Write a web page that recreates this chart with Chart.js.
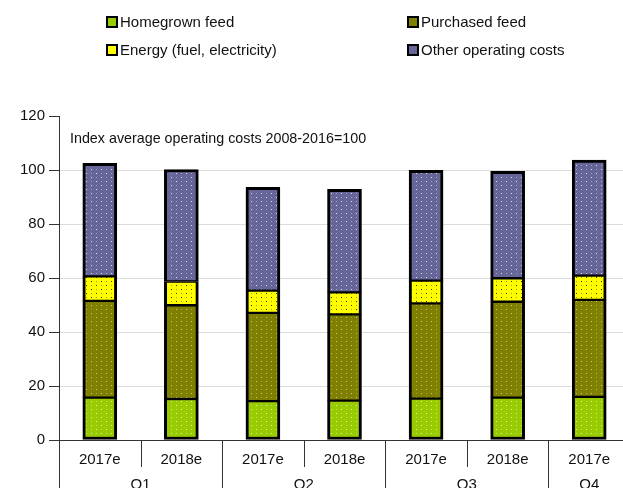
<!DOCTYPE html>
<html>
<head>
<meta charset="utf-8">
<script src="https://cdn.jsdelivr.net/npm/chart.js@4/dist/chart.umd.min.js"></script>
<style>
  html, body { margin: 0; padding: 0; overflow: hidden; background: #fff; }
  canvas { display: block; }
</style>
</head>
<body>
<canvas id="chart" width="630" height="488"></canvas>
<script>
// categories and the quarter each one belongs to
const years = ['2017e', '2018e', '2017e', '2018e', '2017e', '2018e', '2017e'];
const quarters = ['Q1', 'Q1', 'Q2', 'Q2', 'Q3', 'Q3', 'Q4'];

// stacked segments (index, 2008-2016 = 100)
const homegrown = [15.7, 15.2, 14.4, 14.6, 15.3, 15.7, 16.0];
const purchased = [35.8, 34.7, 32.7, 31.9, 35.3, 35.5, 35.9];
const energy = [9.1, 8.8, 8.2, 8.2, 8.4, 8.7, 9.0];
const other = [41.9, 41.5, 38.3, 38.1, 40.9, 39.6, 42.8];

const seriesNames = ['Homegrown feed', 'Purchased feed', 'Energy (fuel, electricity)', 'Other operating costs'];
const seriesColors = ['#99cc00', '#808000', '#ffff00', '#666699'];
const dotColors = ['rgba(255,255,255,0.75)', 'rgba(255,255,255,0.6)', 'rgba(0,0,0,0.8)', 'rgba(255,255,255,0.8)'];
const yMax = 120;
const yStep = 20;
const note = 'Index average operating costs 2008-2016=100';

const FONT = "'Liberation Sans', Arial, sans-serif";

// small dotted fill like the excel pattern
function dotted(color, dot) {
  const c = document.createElement('canvas');
  c.width = 10; c.height = 8;
  const g = c.getContext('2d');
  g.fillStyle = color;
  g.fillRect(0, 0, 10, 8);
  g.fillStyle = dot;
  g.fillRect(1, 1, 1, 1);
  g.fillRect(6, 5, 1, 1);
  g.globalAlpha = 0.45;
  g.fillRect(6, 1, 1, 1);
  g.fillRect(1, 5, 1, 1);
  return g.createPattern(c, 'repeat');
}

const values = [homegrown, purchased, energy, other];
const datasets = values.map((v, i) => ({
  label: seriesNames[i],
  data: v,
  backgroundColor: dotted(seriesColors[i], dotColors[i]),
  borderColor: '#000',
  borderWidth: {
    left: 3, right: 3,
    top: i === values.length - 1 ? 3 : 1.5,
    bottom: i === 0 ? 3 : 1.5
  },
  borderSkipped: false,
  barThickness: 34
}));

// legend, note, second row of x labels and the separators
const extras = {
  id: 'extras',
  afterDraw(chart) {
    const ctx = chart.ctx;
    const area = chart.chartArea;
    const x = chart.scales.x;
    ctx.save();

    // legend in two columns
    const cols = [107, 408];
    const rows = [22, 50];
    ctx.font = '15px ' + FONT;
    ctx.textBaseline = 'middle';
    ctx.textAlign = 'left';
    seriesNames.forEach((name, i) => {
      const lx = cols[i % 2];
      const ly = rows[Math.floor(i / 2)];
      ctx.fillStyle = seriesColors[i];
      ctx.fillRect(lx, ly - 5, 10, 10);
      ctx.lineWidth = 2;
      ctx.strokeStyle = '#000';
      ctx.strokeRect(lx, ly - 5, 10, 10);
      ctx.fillStyle = '#111';
      ctx.fillText(name, lx + 13, ly + 1);
    });

    // note inside the plot
    ctx.font = '14.3px ' + FONT;
    ctx.fillStyle = '#111';
    ctx.fillText(note, area.left + 11, area.top + 23);

    // category separators
    const step = x.width / years.length;
    ctx.strokeStyle = '#333';
    ctx.lineWidth = 1;
    for (let i = 0; i <= years.length; i++) {
      const px = Math.round(area.left + i * step) + 0.5;
      const long = i === 0 || i === years.length || quarters[i] !== quarters[i - 1];
      ctx.beginPath();
      ctx.moveTo(px, area.bottom);
      ctx.lineTo(px, long ? chart.height : area.bottom + 27);
      ctx.stroke();
    }

    // quarter labels
    ctx.font = '15px ' + FONT;
    ctx.textAlign = 'center';
    ctx.textBaseline = 'alphabetic';
    ctx.fillStyle = '#111';
    let start = 0;
    for (let i = 1; i <= quarters.length; i++) {
      if (i === quarters.length || quarters[i] !== quarters[start]) {
        const cx = (x.getPixelForValue(start) + x.getPixelForValue(i - 1)) / 2;
        ctx.fillText(quarters[start], cx, area.bottom + 49);
        start = i;
      }
    }
    ctx.restore();
  }
};

new Chart(document.getElementById('chart'), {
  type: 'bar',
  data: { labels: years, datasets: datasets },
  options: {
    responsive: false,
    animation: false,
    layout: { padding: { top: 116, right: 0, left: 0, bottom: 0 } },
    plugins: {
      legend: { display: false },
      tooltip: { enabled: false }
    },
    scales: {
      x: {
        stacked: true,
        grid: { display: false },
        border: { display: true, color: '#333', width: 1 },
        ticks: {
          color: '#111',
          font: { family: FONT, size: 15 },
          padding: 3,
          maxRotation: 0,
          autoSkip: false
        },
        afterFit(scale) { scale.height = 48; }
      },
      y: {
        stacked: true,
        min: 0,
        max: yMax,
        grid: {
          color: (c) => (c.tick && c.tick.value === yMax ? 'rgba(0,0,0,0)' : '#dcdcdc'),
          tickColor: '#333',
          tickLength: 10,
          lineWidth: 1
        },
        border: { display: true, color: '#333', width: 1 },
        ticks: {
          stepSize: yStep,
          color: '#111',
          font: { family: FONT, size: 15 },
          padding: 4
        },
        afterFit(scale) { scale.width = 59; }
      }
    }
  },
  plugins: [extras]
});
</script>
</body>
</html>
